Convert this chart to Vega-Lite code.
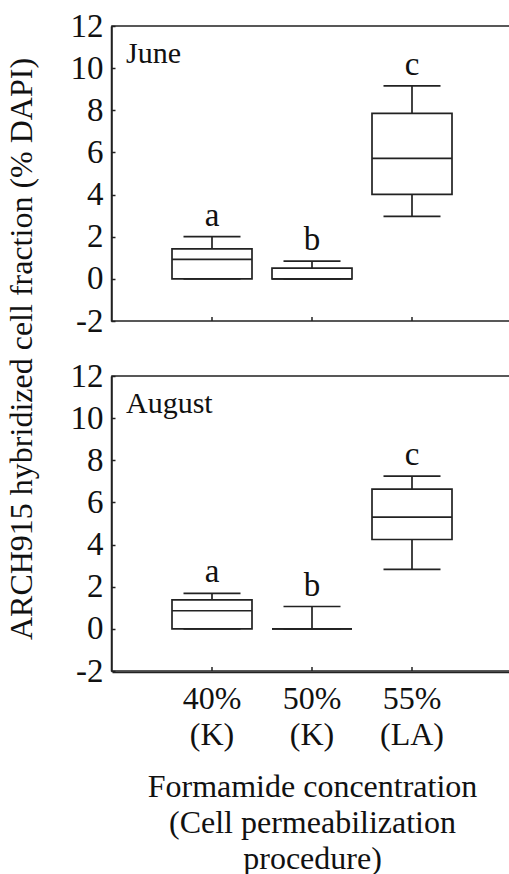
{
  "$schema": "https://vega.github.io/schema/vega-lite/v6.json",
  "padding": {"top": 10, "left": 5, "right": 0, "bottom": 0},
  "autosize": {"type": "pad"},
  "background": "white",
  "config": {
    "font": "Liberation Serif",
    "view": {"stroke": "#222", "strokeWidth": 1.5},
    "axis": {"grid": false}
  },
  "data": {
    "values": [
      {"month": "June", "group": "40% (K)", "lo": 0, "q1": 0, "med": 0.92, "q3": 1.42, "hi": 2.0, "letter": "a"},
      {"month": "June", "group": "50% (K)", "lo": 0, "q1": 0, "med": 0, "q3": 0.51, "hi": 0.84, "letter": "b"},
      {"month": "June", "group": "55% (LA)", "lo": 2.97, "q1": 4.01, "med": 5.72, "q3": 7.85, "hi": 9.16, "letter": "c"},
      {"month": "August", "group": "40% (K)", "lo": 0, "q1": 0, "med": 0.86, "q3": 1.38, "hi": 1.68, "letter": "a"},
      {"month": "August", "group": "50% (K)", "lo": 0, "q1": 0, "med": 0, "q3": 0, "hi": 1.06, "letter": "b"},
      {"month": "August", "group": "55% (LA)", "lo": 2.82, "q1": 4.24, "med": 5.30, "q3": 6.63, "hi": 7.25, "letter": "c"}
    ]
  },
  "facet": {
    "row": {
      "field": "month",
      "type": "nominal",
      "sort": ["June", "August"],
      "title": "ARCH915 hybridized cell fraction (% DAPI)",
      "header": {
        "labels": false,
        "titleFont": "Liberation Serif",
        "titleFontSize": 32,
        "titleFontWeight": "normal",
        "titleColor": "#111",
        "titlePadding": 21
      }
    }
  },
  "spacing": 53,
  "spec": {
    "width": 400,
    "height": 295,
    "encoding": {
      "x": {
        "field": "group",
        "type": "nominal",
        "sort": null,
        "scale": {"paddingInner": 0, "paddingOuter": 0.5},
        "axis": {
          "labelExpr": "split(datum.label, ' ')",
          "labelAngle": 0,
          "labelFont": "Liberation Serif",
          "labelFontSize": 32,
          "labelColor": "#111",
          "labelLineHeight": 36,
          "ticks": false,
          "labelPadding": 11,
          "domainColor": "#222",
          "domainWidth": 1.5,
          "title": ["Formamide concentration", "(Cell permeabilization", "procedure)"],
          "titleFont": "Liberation Serif",
          "titleFontSize": 32,
          "titleFontWeight": "normal",
          "titleColor": "#111",
          "titleLineHeight": 36,
          "titlePadding": 21
        }
      }
    },
    "layer": [
      {
        "mark": {"type": "rule", "color": "#222", "strokeWidth": 1.7},
        "encoding": {
          "y": {
            "field": "lo",
            "type": "quantitative",
            "scale": {"domain": [-2, 12], "nice": false, "zero": false},
            "axis": {
              "title": null,
              "values": [-2, 0, 2, 4, 6, 8, 10, 12],
              "labelExpr": "'' + datum.value",
              "labelFont": "Liberation Serif",
              "labelFontSize": 33,
              "labelColor": "#111",
              "tickSize": -4,
              "tickColor": "#222",
              "tickWidth": 1.5,
              "labelPadding": 12,
              "domainColor": "#222",
              "domainWidth": 1.5
            }
          },
          "y2": {"field": "hi"}
        }
      },
      {
        "mark": {"type": "bar", "size": 80, "fill": "white", "stroke": "#222", "strokeWidth": 1.7},
        "encoding": {
          "y": {"field": "q1", "type": "quantitative", "title": null},
          "y2": {"field": "q3"}
        }
      },
      {
        "mark": {"type": "tick", "orient": "horizontal", "size": 80, "thickness": 1.7, "color": "#222", "opacity": 1},
        "encoding": {"y": {"field": "med", "type": "quantitative", "title": null}}
      },
      {
        "mark": {"type": "tick", "orient": "horizontal", "size": 57, "thickness": 1.7, "color": "#222", "opacity": 1},
        "encoding": {"y": {"field": "hi", "type": "quantitative", "title": null}}
      },
      {
        "mark": {"type": "tick", "orient": "horizontal", "size": 57, "thickness": 1.7, "color": "#222", "opacity": 1},
        "encoding": {"y": {"field": "lo", "type": "quantitative", "title": null}}
      },
      {
        "mark": {"type": "tick", "orient": "vertical", "size": 8, "thickness": 1.5, "color": "#222", "opacity": 1, "clip": true},
        "encoding": {"y": {"datum": -2, "type": "quantitative", "title": null}}
      },
      {
        "mark": {"type": "text", "fontSize": 33, "font": "Liberation Serif", "baseline": "alphabetic", "dy": -11, "color": "#111"},
        "encoding": {
          "y": {"field": "hi", "type": "quantitative", "title": null},
          "text": {"field": "letter"}
        }
      },
      {
        "transform": [{"filter": "datum.group == '40% (K)'"}],
        "mark": {"type": "text", "fontSize": 30, "font": "Liberation Serif", "align": "left", "baseline": "alphabetic", "dx": -86, "color": "#111"},
        "encoding": {
          "y": {"datum": 10.25, "type": "quantitative", "title": null},
          "text": {"field": "month"}
        }
      }
    ]
  }
}
